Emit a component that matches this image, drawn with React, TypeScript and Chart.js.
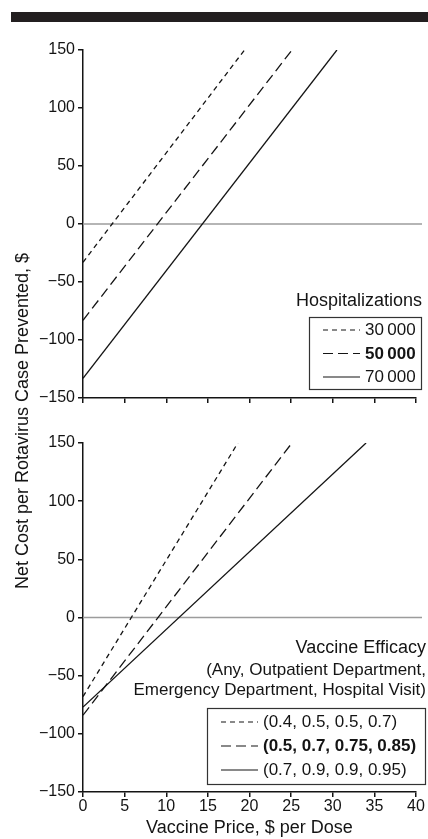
import React, { useEffect, useRef } from 'react';
import { Chart, registerables } from 'chart.js';

Chart.register(...registerables);

const FONT = '"Liberation Sans", Arial, Helvetica, sans-serif';
const INK = '#141414';

// ---- data ----
const priceMin = 0;
const priceMax = 40;
const priceStep = 5;
const costMin = -150;
const costMax = 150;
const costStep = 50;

const yAxisTitle = 'Net Cost per Rotavirus Case Prevented, $';
const xAxisTitle = 'Vaccine Price, $ per Dose';

// top panel: hospitalizations
const hospTitle = ['Hospitalizations'];
const hospLabels = ['30\u2009000', '50\u2009000', '70\u2009000'];
const hosp30kPrice = [0, 19.4];
const hosp30kCost = [-33, 150];
const hosp50kPrice = [0, 25.1];
const hosp50kCost = [-83, 150];
const hosp70kPrice = [0, 30.5];
const hosp70kCost = [-133, 150];

// bottom panel: vaccine efficacy
const effTitle = ['Vaccine Efficacy', '(Any, Outpatient Department,', 'Emergency Department, Hospital Visit)'];
const effLabels = ['(0.4, 0.5, 0.5, 0.7)', '(0.5, 0.7, 0.75, 0.85)', '(0.7, 0.9, 0.9, 0.95)'];
const effLowPrice = [0, 18.6];
const effLowCost = [-68, 150];
const effBasePrice = [0, 25.1];
const effBaseCost = [-84, 150];
const effHighPrice = [0, 34];
const effHighCost = [-77, 150];

const boldEntry = [false, true, false];

// ---- styles ----
const dashes = [[5, 4], [10, 5], []];

const toPoints = (xs: number[], ys: number[]) => xs.map((x, i) => ({ x, y: ys[i] }));

const fmtTick = (v: number) => (v < 0 ? '\u2212' + Math.abs(v) : String(v));

const zeroLinePlugin = {
  id: 'zeroLine',
  beforeDatasetsDraw(chart: any) {
    const { ctx, chartArea } = chart;
    const y = chart.scales.y.getPixelForValue(0);
    ctx.save();
    ctx.strokeStyle = '#9c9c9c';
    ctx.lineWidth = 1.5;
    ctx.beginPath();
    ctx.moveTo(chartArea.left, y);
    ctx.lineTo(chartArea.right + 6, y);
    ctx.stroke();
    ctx.restore();
  },
};

type LegendCfg = {
  titles: { text: string; size: number; dy: number }[];
  rightOffset: number;
  bottomOffset: number;
  width: number;
  height: number;
  rowStart: number;
  rowGap: number;
  textRight: number;
};

function makeLegendPlugin(cfg: LegendCfg) {
  return {
    id: 'boxLegend',
    afterDraw(chart: any) {
      const { ctx, chartArea } = chart;
      const right = chartArea.right + cfg.rightOffset;
      const bottom = chartArea.bottom - cfg.bottomOffset;
      const left = right - cfg.width;
      const top = bottom - cfg.height;
      ctx.save();
      ctx.fillStyle = INK;
      ctx.textAlign = 'right';
      ctx.textBaseline = 'middle';
      cfg.titles.forEach((t) => {
        ctx.font = `${t.size}px ${FONT}`;
        ctx.fillText(t.text, right + cfg.textRight, top + t.dy);
      });
      ctx.fillStyle = '#fff';
      ctx.fillRect(left, top, cfg.width, cfg.height);
      ctx.strokeStyle = '#333';
      ctx.lineWidth = 1.2;
      ctx.strokeRect(left + 0.5, top + 0.5, cfg.width, cfg.height);
      chart.data.datasets.forEach((d: any, i: number) => {
        const y = top + cfg.rowStart + i * cfg.rowGap;
        ctx.setLineDash(d.borderDash || []);
        ctx.strokeStyle = INK;
        ctx.lineWidth = 1.2;
        ctx.beginPath();
        ctx.moveTo(left + 14, y);
        ctx.lineTo(left + 51, y);
        ctx.stroke();
        ctx.setLineDash([]);
        ctx.fillStyle = INK;
        ctx.textAlign = 'left';
        ctx.font = `${boldEntry[i] ? 'bold ' : ''}17px ${FONT}`;
        ctx.fillText(d.label, left + 56, y + 0.5);
      });
      ctx.restore();
    },
  };
}

function makeConfig(
  labels: string[],
  series: { x: number[]; y: number[] }[],
  showXLabels: boolean,
  xHeight: number,
  padding: any,
  legend: LegendCfg
): any {
  return {
    type: 'line',
    data: {
      datasets: series.map((s, i) => ({
        label: labels[i],
        data: toPoints(s.x, s.y),
        borderColor: INK,
        borderWidth: 1.3,
        borderDash: dashes[i],
        pointRadius: 0,
        fill: false,
        tension: 0,
      })),
    },
    options: {
      responsive: false,
      animation: false,
      devicePixelRatio: 1,
      layout: { padding },
      plugins: { legend: { display: false }, tooltip: { enabled: false } },
      scales: {
        x: {
          type: 'linear',
          min: priceMin,
          max: priceMax,
          ticks: {
            stepSize: priceStep,
            display: showXLabels,
            color: INK,
            padding: 0,
            maxRotation: 0,
            autoSkip: false,
            font: { family: FONT, size: 16 },
          },
          grid: { display: true, drawOnChartArea: false, drawTicks: true, tickLength: 5, color: INK, lineWidth: 1.5 },
          border: { display: true, color: INK, width: 1.5 },
          title: {
            display: showXLabels,
            text: xAxisTitle,
            color: INK,
            padding: { top: 0, bottom: 0 },
            font: { family: FONT, size: 18 },
          },
          afterFit(s: any) {
            s.height = xHeight;
            s.paddingLeft = 0;
            s.paddingRight = 0;
          },
        },
        y: {
          type: 'linear',
          min: costMin,
          max: costMax,
          ticks: {
            stepSize: costStep,
            color: INK,
            padding: 3,
            font: { family: FONT, size: 16 },
            callback: (v: any) => fmtTick(Number(v)),
          },
          grid: { display: true, drawOnChartArea: false, drawTicks: true, tickLength: 5, color: INK, lineWidth: 1.5 },
          border: { display: true, color: INK, width: 1.5 },
          afterFit(s: any) {
            s.width = 83;
            s.paddingTop = 0;
            s.paddingBottom = 0;
          },
        },
      },
    },
    plugins: [zeroLinePlugin, makeLegendPlugin(legend)],
  };
}

export default function App() {
  const topRef = useRef<HTMLCanvasElement | null>(null);
  const botRef = useRef<HTMLCanvasElement | null>(null);

  useEffect(() => {
    const top = new Chart(
      topRef.current as HTMLCanvasElement,
      makeConfig(
        hospLabels,
        [
          { x: hosp30kPrice, y: hosp30kCost },
          { x: hosp50kPrice, y: hosp50kCost },
          { x: hosp70kPrice, y: hosp70kCost },
        ],
        false,
        10,
        { top: 50, right: 12, bottom: 12, left: 0 },
        {
          titles: [{ text: hospTitle[0], size: 18, dy: -16 }],
          rightOffset: 5,
          bottomOffset: 9,
          width: 112,
          height: 72,
          rowStart: 13,
          rowGap: 23.5,
          textRight: 1,
        }
      )
    );
    const bot = new Chart(
      botRef.current as HTMLCanvasElement,
      makeConfig(
        effLabels,
        [
          { x: effLowPrice, y: effLowCost },
          { x: effBasePrice, y: effBaseCost },
          { x: effHighPrice, y: effHighCost },
        ],
        true,
        47,
        { top: 23, right: 12, bottom: 0, left: 0 },
        {
          titles: [
            { text: effTitle[0], size: 18, dy: -60 },
            { text: effTitle[1], size: 17, dy: -38 },
            { text: effTitle[2], size: 17, dy: -18 },
          ],
          rightOffset: 9,
          bottomOffset: 8,
          width: 218,
          height: 76,
          rowStart: 14,
          rowGap: 24,
          textRight: 1,
        }
      )
    );
    return () => {
      top.destroy();
      bot.destroy();
    };
  }, []);

  return (
    <div style={{ position: 'absolute', left: 0, top: 0, width: 428, height: 839, background: '#fff', overflow: 'hidden' }}>
      <div style={{ position: 'absolute', left: 11, top: 12, width: 417, height: 10, background: '#231f20' }} />
      <canvas ref={topRef} width={428} height={420} style={{ position: 'absolute', left: 0, top: 0, width: 428, height: 420 }} />
      <canvas ref={botRef} width={428} height={419} style={{ position: 'absolute', left: 0, top: 420, width: 428, height: 419 }} />
      <div
        style={{
          position: 'absolute',
          left: 22 - 220,
          top: 421 - 12,
          width: 440,
          height: 24,
          lineHeight: '24px',
          textAlign: 'center',
          transform: 'rotate(-90deg)',
          fontFamily: FONT,
          fontSize: 18,
          color: INK,
          whiteSpace: 'nowrap',
        }}
      >
        {yAxisTitle}
      </div>
    </div>
  );
}
